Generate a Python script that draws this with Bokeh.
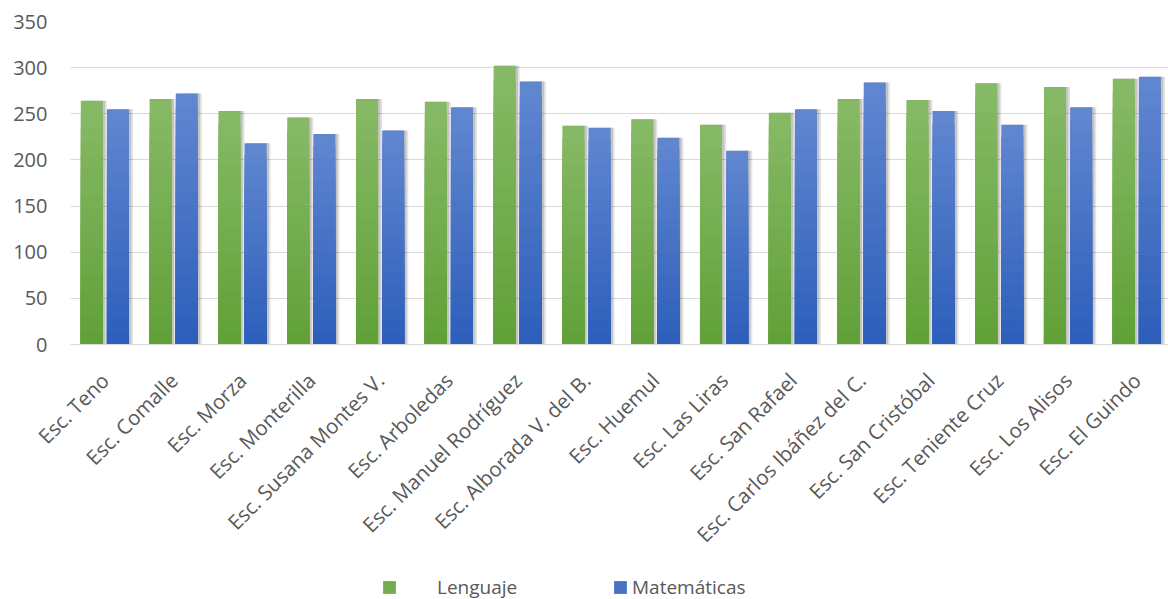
import math
from bokeh.plotting import figure
from bokeh.layouts import column
from bokeh.models import (ColumnDataSource, Range1d, FixedTicker, Legend, LegendItem)
from bokeh.transform import dodge
from bokeh.embed import file_html
from bokeh.resources import INLINE

schools = ["Esc. Teno", "Esc. Comalle", "Esc. Morza", "Esc. Monterilla",
           "Esc. Susana Montes V.", "Esc. Arboledas", "Esc. Manuel Rodríguez",
           "Esc. Alborada V. del B.", "Esc. Huemul", "Esc. Las Liras",
           "Esc. San Rafael", "Esc. Carlos Ibáñez del C.", "Esc. San Cristóbal",
           "Esc. Teniente Cruz", "Esc. Los Alisos", "Esc. El Guindo"]
lenguaje = [264, 266, 253, 246, 266, 263, 302, 237, 244, 238, 251, 266, 265, 283, 279, 288]
matematicas = [255, 272, 218, 228, 232, 257, 285, 235, 224, 210, 255, 284, 253, 238, 257, 290]
y_ticks = [0, 50, 100, 150, 200, 250, 300, 350]

FONT = "Open Sans"
TXT = "#595959"
GREEN_TOP, GREEN_BOT = (134, 185, 102), (98, 161, 56)
BLUE_TOP, BLUE_BOT = (96, 134, 207), (46, 95, 187)
N_STEPS = 18

def mix(c1, c2, t):
    return "#%02x%02x%02x" % tuple(int(round(a + (b - a) * t)) for a, b in zip(c1, c2))

src = ColumnDataSource(dict(x=list(range(len(schools))), leng=lenguaje, mat=matematicas))

p = figure(width=1168, height=570, output_backend="svg", toolbar_location=None,
           x_range=Range1d(-0.5, 15.46), y_range=Range1d(0, 350),
           min_border_left=70, min_border_right=0, min_border_top=21, min_border_bottom=226)
p.outline_line_color = None
p.background_fill_color = "white"
p.border_fill_color = "white"

# soft shadows
for off, w, a in [(0.045, 0.35, 0.10), (0.03, 0.33, 0.14)]:
    p.vbar(x=dodge("x", -0.19 + off, range=p.x_range), top="leng", width=w, source=src,
           fill_color="black", fill_alpha=a, line_color=None)
    p.vbar(x=dodge("x", 0.19 + off, range=p.x_range), top="mat", width=w, source=src,
           fill_color="black", fill_alpha=a, line_color=None)

# gradient bars: each layer covers the lower part of the bar, darker toward the base
for i in range(N_STEPS):
    frac = 1 - i / N_STEPS
    t = i / (N_STEPS - 1)
    s = ColumnDataSource(dict(x=list(range(len(schools))),
                              leng=[v * frac for v in lenguaje],
                              mat=[v * frac for v in matematicas]))
    p.vbar(x=dodge("x", -0.19, range=p.x_range), top="leng", width=0.32, source=s,
           fill_color=mix(GREEN_TOP, GREEN_BOT, t), line_color=None)
    p.vbar(x=dodge("x", 0.19, range=p.x_range), top="mat", width=0.32, source=s,
           fill_color=mix(BLUE_TOP, BLUE_BOT, t), line_color=None)

# axes
p.xaxis.ticker = FixedTicker(ticks=list(range(len(schools))))
p.xaxis.major_label_overrides = {i: s for i, s in enumerate(schools)}
p.xaxis.major_label_orientation = math.pi / 4
p.xaxis.major_tick_out = 0
p.xaxis.major_tick_in = 0
p.xaxis.minor_tick_out = 0
p.xaxis.minor_tick_in = 0
p.xaxis.axis_line_color = "#d9d9d9"
p.xaxis.axis_line_width = 1
p.xaxis.major_label_standoff = 32
p.xaxis.major_label_text_font = FONT
p.xaxis.major_label_text_font_size = "20.5px"
p.xaxis.major_label_text_color = TXT

p.yaxis.ticker = FixedTicker(ticks=y_ticks)
p.yaxis.major_tick_out = 0
p.yaxis.major_tick_in = 0
p.yaxis.minor_tick_out = 0
p.yaxis.minor_tick_in = 0
p.yaxis.axis_line_color = None
p.yaxis.major_label_standoff = 23
p.yaxis.major_label_text_font = FONT
p.yaxis.major_label_text_font_size = "20px"
p.yaxis.major_label_text_color = TXT

p.xgrid.grid_line_color = None
p.ygrid.grid_line_color = "#d9d9d9"
p.ygrid.grid_line_width = 1
p.ygrid.ticker = FixedTicker(ticks=y_ticks)

# legend strip (its frame is aligned with the chart frame by the column layout)
q = figure(width=1168, height=29, output_backend="svg", toolbar_location=None,
           x_range=Range1d(0, 1), y_range=Range1d(0, 1),
           x_axis_type=None, y_axis_type=None,
           min_border_left=0, min_border_right=0, min_border_top=0, min_border_bottom=0)
q.outline_line_color = None
q.grid.visible = False
offscreen = ColumnDataSource(dict(x=[5], top=[0]))
lg_g = q.vbar(x="x", top="top", width=0.1, source=offscreen,
              fill_color=mix(GREEN_TOP, GREEN_BOT, 0.5), line_color=None)
lg_b = q.vbar(x="x", top="top", width=0.1, source=offscreen,
              fill_color=mix(BLUE_TOP, BLUE_BOT, 0.5), line_color=None)

def make_legend(item, x, standoff):
    return Legend(items=[item], location=(x, -1), orientation="horizontal",
                  glyph_width=16, glyph_height=16, label_standoff=standoff,
                  padding=0, margin=0, spacing=0,
                  border_line_color=None, background_fill_alpha=0,
                  label_text_font=FONT, label_text_font_size="19px",
                  label_text_color=TXT)

q.add_layout(make_legend(LegendItem(label="Lenguaje", renderers=[lg_g]), 311, 40), "center")
q.add_layout(make_legend(LegendItem(label="Matemáticas", renderers=[lg_b]), 542, 4), "center")

layout = column(p, q, spacing=0)
open("out.html", "w").write(file_html(layout, INLINE))
